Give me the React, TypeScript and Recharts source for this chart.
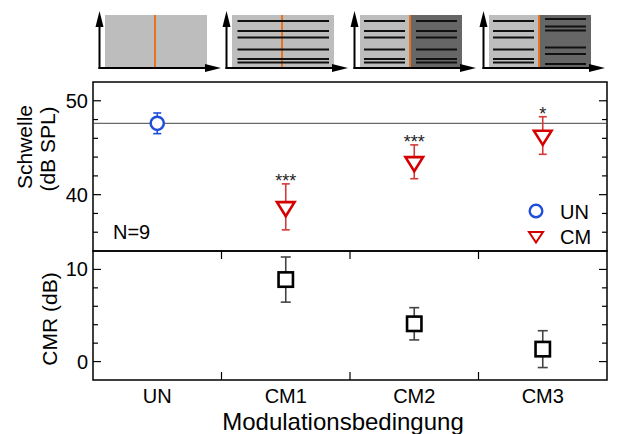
import React from 'react';
import { ComposedChart, Scatter, XAxis, YAxis, ErrorBar, ReferenceLine, ReferenceArea, Legend } from 'recharts';

// ---- data ----
const categories = ['UN', 'CM1', 'CM2', 'CM3'];
const legendOrder = ['UN', 'CM'];
const unThreshold = [47.6];
const unError = [1.1];
const cmThreshold = [38.7, 43.5, 46.3];
const cmError = [2.45, 1.8, 2.0];
const significance = ['***', '***', '*'];
const cmrValues = [8.9, 4.1, 1.35];
const cmrError = [2.45, 1.75, 2.0];
const thresholdTicks = [36, 38, 40, 42, 44, 46, 48, 50];
const cmrTicks = [0, 2, 4, 6, 8, 10];
const xTicks = [0.5, 1, 1.5, 2, 2.5, 3, 3.5];
const sampleLabel = 'N=9';

const unData = unThreshold.map((v, i) => ({ x: i + 0.5, y: v, err: unError[i] }));
const cmData = cmThreshold.map((v, i) => ({ x: i + 1.5, y: v, err: cmError[i] }));
const starData = cmThreshold.map((v, i) => ({ x: i + 1.5, y: v + cmError[i], sig: significance[i] }));
const cmrData = cmrValues.map((v, i) => ({ x: i + 1.5, y: v, err: cmrError[i] }));

// ---- layout ----
const W = 617;
const H = 434;
const PL = 93;
const PR = 607;
const TOP1 = 82;
const MID = 251;
const BOT = 380;
const FONT = '"Liberation Sans", Arial, Helvetica, sans-serif';
const BLUE = '#1f4fd8';
const RED = '#d40000';
const RED_ERR = '#d53a3a';

const makeYTick = (showLabel: boolean) => (props: any) => {
  const { y, payload } = props;
  const v = payload.value;
  const major = v % 10 === 0;
  const len = major ? 8 : 5;
  return (
    <g>
      <line x1={PL} x2={PL + len} y1={y} y2={y} stroke="#000" strokeWidth={1.2} />
      <line x1={PR} x2={PR - len} y1={y} y2={y} stroke="#000" strokeWidth={1.2} />
      {showLabel && major && (
        <text x={88} y={y} dy={7} textAnchor="end" fontSize={20} fontFamily={FONT} fill="#000">
          {v}
        </text>
      )}
    </g>
  );
};

const makeXTick = (top: number, bottom: number, showLabel: boolean) => (props: any) => {
  const { x, payload } = props;
  const v = payload.value;
  if (Number.isInteger(v)) {
    return (
      <g>
        <line x1={x} x2={x} y1={top} y2={top + 8} stroke="#000" strokeWidth={1.2} />
        <line x1={x} x2={x} y1={bottom} y2={bottom - 8} stroke="#000" strokeWidth={1.2} />
      </g>
    );
  }
  if (!showLabel) return <g />;
  return (
    <text x={x} y={403} textAnchor="middle" fontSize={20} fontFamily={FONT} fill="#000">
      {categories[Math.floor(v)]}
    </text>
  );
};

const circleShape = (props: any) => {
  const { cx, cy } = props;
  return <circle cx={cx} cy={cy} r={6.6} fill="#fff" stroke={BLUE} strokeWidth={2.5} />;
};

const triangleShape = (props: any) => {
  const { cx, cy } = props;
  const d = `M${cx - 8.8},${cy - 4.7} L${cx + 8.8},${cy - 4.7} L${cx},${cy + 9.4} Z`;
  return <path d={d} fill="#fff" stroke={RED} strokeWidth={2.6} strokeLinejoin="miter" />;
};

const squareShape = (props: any) => {
  const { cx, cy } = props;
  return <rect x={cx - 7.2} y={cy - 7.2} width={14.4} height={14.4} fill="#fff" stroke="#000" strokeWidth={2.6} />;
};

const starShape = (props: any) => {
  const { cx, cy, payload } = props;
  return (
    <text x={cx} y={cy + 3.5} textAnchor="middle" fontSize={18} fontFamily={FONT} fill="#222">
      {payload.sig}
    </text>
  );
};

const renderLegend = (props: any) => {
  const items = (props.payload || [])
    .filter((p: any) => legendOrder.includes(p.value))
    .sort((a: any, b: any) => legendOrder.indexOf(a.value) - legendOrder.indexOf(b.value));
  return (
    <svg width={90} height={56} style={{ display: 'block', overflow: 'visible' }}>
      {items.map((it: any, i: number) => {
        const cy = 14 + i * 25;
        const icon =
          it.value === 'UN' ? (
            <circle cx={14} cy={cy} r={6.3} fill="#fff" stroke={BLUE} strokeWidth={2.4} />
          ) : (
            <path d={`M${14 - 7},${cy - 4} L${14 + 7},${cy - 4} L14,${cy + 6.5} Z`} fill="#fff" stroke={RED} strokeWidth={2} />
          );
        return (
          <g key={i}>
            {icon}
            <text x={38} y={cy + 7.5} fontSize={20} fontFamily={FONT} fill="#000">
              {it.value}
            </text>
          </g>
        );
      })}
    </svg>
  );
};

const thresholdLabel = () => (
  <g fontFamily={FONT} fontSize={21} fill="#000">
    <text transform="translate(32,147) rotate(-90)" textAnchor="middle">Schwelle</text>
    <text transform="translate(54.5,149) rotate(-90)" textAnchor="middle">(dB SPL)</text>
  </g>
);

const cmrLabel = () => (
  <text transform="translate(56.5,319) rotate(-90)" textAnchor="middle" fontFamily={FONT} fontSize={21} fill="#000">
    CMR (dB)
  </text>
);

const xTitle = () => (
  <text x={343} y={430} textAnchor="middle" fontFamily={FONT} fontSize={24} fill="#000">
    Modulationsbedingung
  </text>
);

// ---- stimulus icons (decoration) ----
const iconLefts = [105, 232, 360, 489];
const fullLines = [21, 31, 37.5, 49.5, 59, 62.5];
const altLines = [19, 26.5, 30.5, 47.5, 54, 64];

function StimIcon({ left, kind }: { left: number; kind: number }) {
  const top = 15;
  const w = 102;
  const h = 52;
  const axisY = 68;
  const axisX = left - 5.5;
  const lines: React.ReactNode[] = [];
  if (kind === 1) {
    fullLines.forEach((y, i) =>
      lines.push(<line key={'f' + i} x1={left + 5.5} x2={left + 97} y1={y} y2={y} stroke="#111" strokeWidth={1.8} />)
    );
  }
  if (kind >= 2) {
    fullLines.forEach((y, i) =>
      lines.push(<line key={'l' + i} x1={left + 4} x2={left + 45} y1={y} y2={y} stroke="#111" strokeWidth={1.8} />)
    );
    const right = kind === 2 ? fullLines : altLines;
    right.forEach((y, i) =>
      lines.push(<line key={'r' + i} x1={left + 56} x2={left + 97} y1={y} y2={y} stroke="#111" strokeWidth={1.8} />)
    );
  }
  return (
    <g>
      <rect x={left} y={top} width={w} height={h} fill="#bdbdbd" />
      {kind >= 2 && <rect x={left + 51} y={top} width={w - 51} height={h} fill="#666" />}
      {kind === 1 && <line x1={left + 50} x2={left + 50} y1={top} y2={top + h} stroke="#e8731a" strokeWidth={2} />}
      {lines}
      {kind !== 1 && <line x1={left + 50} x2={left + 50} y1={top} y2={top + h} stroke="#e8731a" strokeWidth={2} />}
      <line x1={axisX} x2={axisX} y1={axisY + 1} y2={26} stroke="#000" strokeWidth={2} />
      <path d={`M${axisX - 4},${27} L${axisX + 4},${27} L${axisX},${11} Z`} fill="#000" />
      <line x1={axisX - 1} x2={left + 101} y1={axisY} y2={axisY} stroke="#000" strokeWidth={2} />
      <path d={`M${left + 100},${axisY - 4} L${left + 100},${axisY + 4} L${left + 116},${axisY} Z`} fill="#000" />
    </g>
  );
}

export default function App() {
  return (
    <div style={{ position: 'absolute', left: 0, top: 0, width: W, height: H, background: '#fff', fontFamily: FONT }}>
      <svg width={W} height={H} style={{ position: 'absolute', left: 0, top: 0 }}>
        {iconLefts.map((l, i) => (
          <StimIcon key={i} left={l} kind={i} />
        ))}
        <text x={113} y={238.5} fontSize={20} fontFamily={FONT} fill="#000">
          {sampleLabel}
        </text>
      </svg>

      <div style={{ position: 'absolute', left: 0, top: 0 }}>
        <ComposedChart width={W} height={H} margin={{ top: TOP1, right: W - PR, bottom: H - MID, left: 0 }}>
          <XAxis
            type="number"
            dataKey="x"
            domain={[0, 4]}
            ticks={xTicks}
            interval={0}
            height={0}
            axisLine={false}
            tickLine={false}
            tickSize={0}
            tickMargin={0}
            tick={makeXTick(TOP1, MID, false)}
          />
          <YAxis
            type="number"
            dataKey="y"
            domain={[34, 52]}
            ticks={thresholdTicks}
            interval={0}
            width={PL}
            axisLine={false}
            tickLine={false}
            tick={makeYTick(true)}
            label={thresholdLabel}
          />
          <ReferenceArea x1={0} x2={4} y1={34} y2={52} fill="none" fillOpacity={0} stroke="#000" strokeWidth={1.5} />
          <ReferenceLine y={unThreshold[0]} stroke="#444" strokeWidth={1} />
          <Scatter name="UN" data={unData} fill={BLUE} shape={circleShape} isAnimationActive={false}>
            <ErrorBar dataKey="err" direction="y" width={4} stroke={BLUE} strokeWidth={1.6} />
          </Scatter>
          <Scatter name="CM" data={cmData} fill={RED} shape={triangleShape} isAnimationActive={false}>
            <ErrorBar dataKey="err" direction="y" width={4} stroke={RED_ERR} strokeWidth={1.6} />
          </Scatter>
          <Scatter name="sig" data={starData} legendType="none" shape={starShape} isAnimationActive={false} />
          <Legend
            layout="vertical"
            align="center"
            verticalAlign="middle"
            content={renderLegend}
            wrapperStyle={{ position: 'absolute', left: 522, top: 197, width: 90, height: 56 }}
          />
        </ComposedChart>
      </div>

      <div style={{ position: 'absolute', left: 0, top: 0 }}>
        <ComposedChart width={W} height={H} margin={{ top: MID, right: W - PR, bottom: 0, left: 0 }}>
          <XAxis
            type="number"
            dataKey="x"
            domain={[0, 4]}
            ticks={xTicks}
            interval={0}
            height={H - BOT}
            axisLine={false}
            tickLine={false}
            tickSize={0}
            tickMargin={0}
            tick={makeXTick(MID, BOT, true)}
            label={xTitle}
          />
          <YAxis
            type="number"
            dataKey="y"
            domain={[-2, 12]}
            ticks={cmrTicks}
            interval={0}
            width={PL}
            axisLine={false}
            tickLine={false}
            tick={makeYTick(true)}
            label={cmrLabel}
          />
          <ReferenceArea x1={0} x2={4} y1={-2} y2={12} fill="none" fillOpacity={0} stroke="#000" strokeWidth={1.5} />
          <Scatter name="CMR" data={cmrData} fill="#000" shape={squareShape} isAnimationActive={false}>
            <ErrorBar dataKey="err" direction="y" width={5} stroke="#444" strokeWidth={1.6} />
          </Scatter>
        </ComposedChart>
      </div>
    </div>
  );
}
